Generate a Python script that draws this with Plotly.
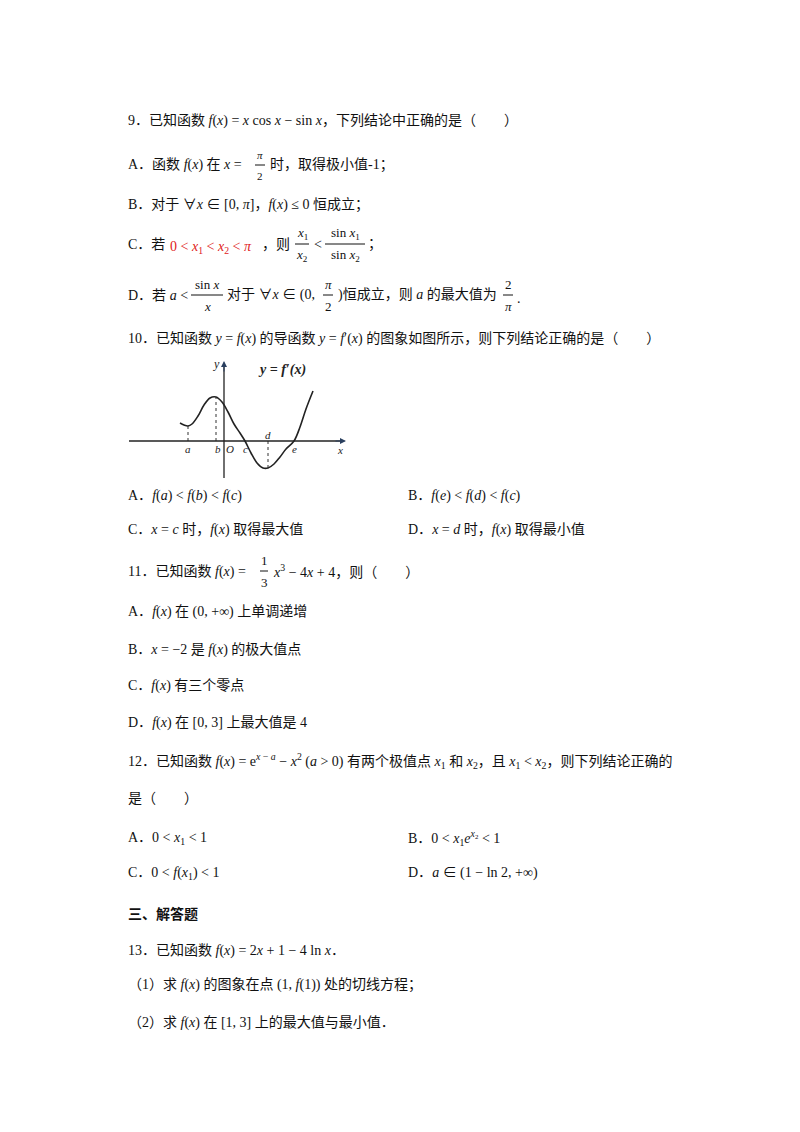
import plotly.graph_objects as go

W, H = 800, 1132

# derivative curve (origin at the axes crossing)
curve_x = [-44, -40, -36, -32, -26, -20, -14, -8, -2, 4, 10, 16, 21, 27, 33, 39, 44, 50, 56, 62, 70, 76, 82, 89]
curve_y = [18, 16, 15, 17, 25, 36, 43, 44, 39, 29, 17, 8, 0, -12, -22, -27, -27, -23, -16, -8, 0, 14, 32, 50]
pt_names = ["a", "b", "O", "c", "e"]
pt_x = [-36, -6, 6, 21, 70]
drop_x = [-36, -8, 44]
drop_y = [15, 44, -27]

SERIF = "Liberation Serif, Noto Sans CJK SC"
fig = go.Figure()
fig.add_trace(go.Scatter(x=curve_x, y=curve_y, mode="lines", line=dict(color="#222", width=1.6, shape="spline"),
                         hoverinfo="skip", showlegend=False))
for dx, dy in zip(drop_x, drop_y):
    fig.add_shape(type="line", x0=dx, x1=dx, y0=0, y1=dy, line=dict(color="#333", width=1, dash="dot"))
fig.add_shape(type="line", x0=-95, x1=118, y0=0, y1=0, line=dict(color="#222", width=1.3))
fig.add_shape(type="line", x0=0, x1=0, y0=-38, y1=75, line=dict(color="#222", width=1.3))
fig.add_annotation(x=122, y=0, ax=110, ay=0, axref="x", ayref="y", showarrow=True, arrowhead=2, arrowsize=1.2, text="")
fig.add_annotation(x=0, y=80, ax=0, ay=68, axref="x", ayref="y", showarrow=True, arrowhead=2, arrowsize=1.2, text="")
for n, px in zip(pt_names, pt_x):
    fig.add_annotation(x=px, y=-8, text="<i>%s</i>" % n, showarrow=False, font=dict(family=SERIF, size=11, color="#222"))
fig.add_annotation(x=44, y=6, text="<i>d</i>", showarrow=False, font=dict(family=SERIF, size=11, color="#222"))
fig.add_annotation(x=116, y=-9, text="<i>x</i>", showarrow=False, font=dict(family=SERIF, size=11, color="#222"))
fig.add_annotation(x=-8, y=77, text="<i>y</i>", showarrow=False, font=dict(family=SERIF, size=12, color="#222"))
fig.add_annotation(x=58, y=71, text="<b><i>y = f′(x)</i></b>", showarrow=False, font=dict(family=SERIF, size=14, color="#222"))

fig.update_xaxes(range=[-101, 129], domain=[115 / W, 345 / W], visible=False)
fig.update_yaxes(range=[-37, 85], domain=[1 - 470 / H, 1 - 348 / H], visible=False)


def P(px, py):
    return px / W, 1 - py / H


def txt(px, py, s, size=14, color="#111", anchor="left"):
    x, y = P(px, py)
    fig.add_annotation(x=x, y=y, xref="paper", yref="paper", text=s, showarrow=False, xanchor=anchor,
                       yanchor="middle", font=dict(family=SERIF, size=size, color=color))


def frac(px, py, num, den, w=14, size=13):
    txt(px, py - 10, num, size, anchor="center")
    txt(px, py + 11, den, size, anchor="center")
    x0, y0 = P(px - w / 2, py)
    x1, _ = P(px + w / 2, py)
    fig.add_shape(type="line", xref="paper", yref="paper", x0=x0, x1=x1, y0=y0, y1=y0, line=dict(color="#111", width=1))


f = "<i>f</i>(<i>x</i>)"
L = 118
txt(L, 112, "9．已知函数 " + f + " = <i>x</i> cos <i>x</i> − sin <i>x</i>，下列结论中正确的是（　　）")
txt(L, 157, "A．函数 " + f + " 在 <i>x</i> =")
frac(252, 157, "<i>π</i>", "2", 10, 11)
txt(260, 157, "时，取得极小值-1；")
txt(L, 197, "B．对于 ∀<i>x</i> ∈ [0, <i>π</i>]，" + f + " ≤ 0 恒成立；")
txt(L, 236, "C．若")
txt(160, 240, "0 &lt; <i>x</i><sub>1</sub> &lt; <i>x</i><sub>2</sub> &lt; <i>π</i>", color="#e02020")
txt(252, 236, "，则")
frac(294, 236, "<i>x</i><sub>1</sub>", "<i>x</i><sub>2</sub>", 14)
txt(304, 236, "&lt;")
frac(337, 236, "sin <i>x</i><sub>1</sub>", "sin <i>x</i><sub>2</sub>", 40)
txt(358, 236, "；")
txt(L, 287, "D．若 <i>a</i> &lt;")
frac(199, 287, "sin <i>x</i>", "<i>x</i>", 32)
txt(217, 287, "对于 ∀<i>x</i> ∈ (0,")
frac(320, 287, "<i>π</i>", "2", 10)
txt(328, 287, ")恒成立，则 <i>a</i> 的最大值为")
frac(500, 287, "2", "<i>π</i>", 10)
txt(507, 290, ".")

txt(L, 330, "10．已知函数 <i>y</i> = " + f + " 的导函数 <i>y</i> = <i>f</i>′(<i>x</i>) 的图象如图所示，则下列结论正确的是（　　）")
txt(L, 488, "A．<i>f</i>(<i>a</i>) &lt; <i>f</i>(<i>b</i>) &lt; <i>f</i>(<i>c</i>)")
txt(398, 488, "B．<i>f</i>(<i>e</i>) &lt; <i>f</i>(<i>d</i>) &lt; <i>f</i>(<i>c</i>)")
txt(L, 522, "C．<i>x</i> = <i>c</i> 时，" + f + " 取得最大值")
txt(398, 522, "D．<i>x</i> = <i>d</i> 时，" + f + " 取得最小值")

txt(L, 563, "11．已知函数 " + f + " =")
frac(256, 563, "1", "3", 8)
txt(263, 563, "<i>x</i><sup>3</sup> − 4<i>x</i> + 4，则（　　）")
txt(L, 604, "A．" + f + " 在 (0, +∞) 上单调递增")
txt(L, 642, "B．<i>x</i> = −2 是 " + f + " 的极大值点")
txt(L, 678, "C．" + f + " 有三个零点")
txt(L, 715, "D．" + f + " 在 [0, 3] 上最大值是 4")
txt(L, 753, "12．已知函数 " + f + " = e<sup><i>x</i> − <i>a</i></sup> − <i>x</i><sup>2</sup> (<i>a</i> &gt; 0) 有两个极值点 <i>x</i><sub>1</sub> 和 <i>x</i><sub>2</sub>，且 <i>x</i><sub>1</sub> &lt; <i>x</i><sub>2</sub>，则下列结论正确的")
txt(L, 790, "是（　　）")
txt(L, 830, "A．0 &lt; <i>x</i><sub>1</sub> &lt; 1")
txt(398, 830, "B．0 &lt; <i>x</i><sub>1</sub><i>e</i><sup><i>x</i><sub>2</sub></sup> &lt; 1")
txt(L, 865, "C．0 &lt; <i>f</i>(<i>x</i><sub>1</sub>) &lt; 1")
txt(398, 865, "D．<i>a</i> ∈ (1 − ln 2, +∞)")
txt(L, 906, "<b>三、解答题</b>")
txt(L, 942, "13．已知函数 " + f + " = 2<i>x</i> + 1 − 4 ln <i>x</i>．")
txt(L, 977, "（1）求 " + f + " 的图象在点 (1, <i>f</i>(1)) 处的切线方程；")
txt(L, 1015, "（2）求 " + f + " 在 [1, 3] 上的最大值与最小值．")

fig.update_layout(width=W, height=H, margin=dict(l=0, r=0, t=0, b=0), plot_bgcolor="white",
                  paper_bgcolor="white", showlegend=False)
fig.write_html("out.html")
